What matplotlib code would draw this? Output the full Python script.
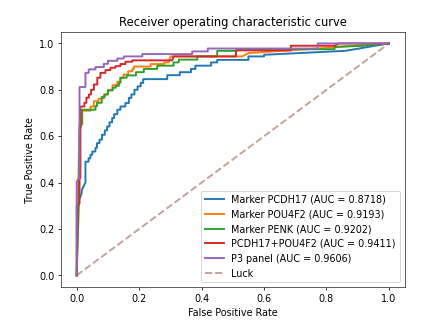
import matplotlib
matplotlib.use("Agg")
import matplotlib.pyplot as plt

# ROC curve vertices (false positive rate, true positive rate) per marker
labels = [
    "Marker PCDH17 (AUC = 0.8718)",
    "Marker POU4F2 (AUC = 0.9193)",
    "Marker PENK (AUC = 0.9202)",
    "PCDH17+POU4F2 (AUC = 0.9411)",
    "P3 panel (AUC = 0.9606)",
]
colors = ["#1f77b4", "#ff7f0e", "#2ca02c", "#d62728", "#9467bd"]

pcdh17_fpr = [0, 0, 0.015, 0.017, 0.028, 0.028, 0.038, 0.038, 0.044, 0.044, 0.05, 0.05, 0.06, 0.06,
              0.065, 0.065, 0.073, 0.073, 0.081, 0.081, 0.09, 0.09, 0.0975, 0.0975, 0.105, 0.105,
              0.1135, 0.1135, 0.12, 0.12, 0.13, 0.13, 0.14, 0.14, 0.156, 0.156, 0.167, 0.167,
              0.175, 0.175, 0.185, 0.185, 0.195, 0.195, 0.205, 0.205, 0.213, 0.213, 0.29, 0.29,
              0.33, 0.33, 0.366, 0.366, 0.38, 0.38, 0.43, 0.43, 0.45, 0.45, 0.55, 0.55, 0.60, 0.60,
              0.86, 1.0]
pcdh17_tpr = [0, 0.30, 0.35, 0.37, 0.40, 0.49, 0.49, 0.505, 0.505, 0.52, 0.52, 0.534, 0.534, 0.55,
              0.55, 0.57, 0.57, 0.585, 0.585, 0.606, 0.606, 0.625, 0.625, 0.642, 0.642, 0.66,
              0.66, 0.678, 0.678, 0.695, 0.695, 0.714, 0.714, 0.728, 0.728, 0.743, 0.743, 0.765,
              0.765, 0.78, 0.78, 0.80, 0.80, 0.815, 0.815, 0.83, 0.83, 0.846, 0.846, 0.863,
              0.863, 0.876, 0.876, 0.89, 0.89, 0.904, 0.904, 0.918, 0.918, 0.929, 0.929, 0.944,
              0.944, 0.951, 0.968, 1.0]

pou4f2_fpr = [0, 0.006, 0.009, 0.018, 0.018, 0.044, 0.044, 0.055, 0.055, 0.07, 0.07, 0.087, 0.087,
              0.10, 0.10, 0.115, 0.115, 0.13, 0.13, 0.14, 0.14, 0.15, 0.15, 0.165, 0.165, 0.178,
              0.178, 0.183, 0.183, 0.237, 0.237, 0.28, 0.28, 0.295, 0.30, 0.53, 0.55, 0.59, 0.74,
              0.89, 1.0]
pou4f2_tpr = [0, 0.45, 0.652, 0.652, 0.71, 0.71, 0.728, 0.728, 0.751, 0.751, 0.762, 0.762, 0.78,
              0.78, 0.80, 0.80, 0.82, 0.82, 0.835, 0.835, 0.852, 0.852, 0.866, 0.866, 0.88, 0.88,
              0.89, 0.89, 0.90, 0.90, 0.911, 0.911, 0.918, 0.918, 0.944, 0.944, 0.958, 0.962, 0.975,
              0.99, 1.0]

penk_fpr = [0, 0.007, 0.009, 0.012, 0.017, 0.017, 0.06, 0.06, 0.065, 0.065, 0.08, 0.08, 0.09, 0.09,
            0.10, 0.10, 0.115, 0.115, 0.125, 0.125, 0.135, 0.135, 0.14, 0.14, 0.16, 0.16, 0.19,
            0.19, 0.215, 0.215, 0.258, 0.258, 0.31, 0.31, 0.327, 0.327, 0.386, 0.386, 0.45, 0.45,
            0.514, 0.514, 0.826, 0.826, 0.92, 1.0]
penk_tpr = [0, 0.31, 0.62, 0.635, 0.657, 0.714, 0.714, 0.73, 0.73, 0.744, 0.744, 0.769, 0.769, 0.78,
            0.78, 0.797, 0.797, 0.809, 0.809, 0.817, 0.817, 0.83, 0.83, 0.852, 0.852, 0.862, 0.862,
            0.876, 0.876, 0.89, 0.89, 0.904, 0.904, 0.918, 0.918, 0.93, 0.93, 0.944, 0.944, 0.968,
            0.968, 0.975, 0.975, 0.985, 0.99, 1.0]

combo_fpr = [0, 0.003, 0.009, 0.009, 0.012, 0.012, 0.0246, 0.0246, 0.031, 0.031, 0.039, 0.039,
             0.046, 0.046, 0.055, 0.055, 0.066, 0.066, 0.076, 0.076, 0.092, 0.092, 0.108, 0.108,
             0.124, 0.124, 0.14, 0.14, 0.156, 0.156, 0.178, 0.178, 0.306, 0.31, 0.51, 0.51,
             0.686, 0.686, 0.826, 0.84, 1.0]
combo_tpr = [0, 0.30, 0.31, 0.42, 0.42, 0.728, 0.728, 0.744, 0.744, 0.766, 0.766, 0.78, 0.78,
             0.80, 0.80, 0.823, 0.823, 0.852, 0.852, 0.873, 0.873, 0.885, 0.885, 0.895, 0.895,
             0.902, 0.902, 0.911, 0.911, 0.921, 0.921, 0.927, 0.927, 0.944, 0.944, 0.97, 0.97,
             0.99, 0.99, 1.0, 1.0]

p3_fpr = [0, 0, 0.009, 0.009, 0.028, 0.028, 0.0385, 0.0385, 0.06, 0.06, 0.087, 0.087, 0.10, 0.10,
          0.13, 0.13, 0.151, 0.151, 0.21, 0.21, 0.37, 0.37, 0.42, 0.42, 0.772, 0.772, 1.0]
p3_tpr = [0, 0.405, 0.42, 0.812, 0.812, 0.873, 0.873, 0.888, 0.888, 0.898, 0.898, 0.912, 0.912,
          0.925, 0.925, 0.935, 0.935, 0.944, 0.944, 0.954, 0.954, 0.9655, 0.9655, 0.978, 0.978,
          1.0, 1.0]

curves = [
    (pcdh17_fpr, pcdh17_tpr),
    (pou4f2_fpr, pou4f2_tpr),
    (penk_fpr, penk_tpr),
    (combo_fpr, combo_tpr),
    (p3_fpr, p3_tpr),
]

fig = plt.figure(figsize=(6.4, 4.8), dpi=69)
ax = fig.add_axes([61 / 441, 1 - 287 / 331, 343 / 441, 255 / 331])

for (fpr, tpr), lab, col in zip(curves, labels, colors):
    ax.plot(fpr, tpr, color=col, lw=2, label=lab)

ax.plot([0, 1], [0, 1], linestyle="--", lw=2, color="#8c564b", alpha=0.55, label="Luck")

ax.set_xlim(-0.05, 1.05)
ax.set_ylim(-0.05, 1.05)
ax.set_xlabel("False Positive Rate")
ax.set_ylabel("True Positive Rate")
ax.set_title("Receiver operating characteristic curve")
ax.legend(loc="lower right")
for s in ax.spines.values():
    s.set_color("#333333")

fig.savefig("out.png", dpi=69)
